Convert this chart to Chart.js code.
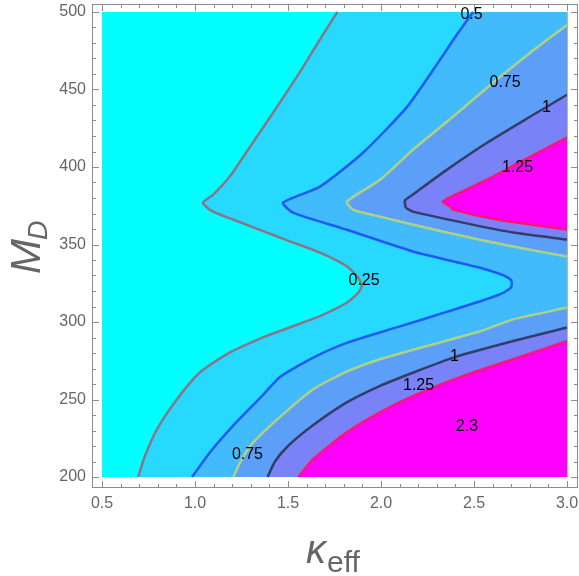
<!DOCTYPE html>
<html>
<head>
<meta charset="utf-8">
<script src="https://cdn.jsdelivr.net/npm/chart.js@4.4.1/dist/chart.umd.min.js"></script>
<style>
  html, body { margin: 0; padding: 0; background: #fff; }
  canvas { display: block; }
</style>
</head>
<body>
<canvas id="contour" width="579" height="576"></canvas>
<script>
// plot domain and ticks
const xRange = [0.5, 3.0];
const yRange = [200, 500];
const xTicks = [0.5, 1.0, 1.5, 2.0, 2.5, 3.0];
const yTicks = [200, 250, 300, 350, 400, 450, 500];

// contour lines, [kappa_eff, M_D]
const line025 = [[1.765,500],[1.66,480],[1.554,459.4],[1.42,435],[1.285,411.1],[1.188,394],[1.098,382.2],[1.043,377],[1.086,371.9],[1.24,364.5],[1.387,357.7],[1.511,352],[1.672,344.8],[1.816,336.0],[1.878,328.5],[1.896,323.1],[1.878,318.9],[1.816,312.4],[1.672,303.8],[1.581,299.7],[1.457,294.2],[1.366,290.1],[1.188,280.4],[1.027,267.6],[0.903,250.2],[0.796,230.9],[0.731,213.5],[0.694,200]];
const line05 = [[2.495,500],[2.40,484],[2.317,469.1],[2.140,438.8],[1.903,409.2],[1.672,387.3],[1.473,377],[1.527,370.6],[1.817,359.5],[2.172,345.5],[2.532,335],[2.65,330.5],[2.70,327],[2.70,322.5],[2.66,319],[2.55,314],[2.353,306.5],[2.084,296.5],[1.816,286.5],[1.636,277],[1.457,264.5],[1.366,253],[1.204,233],[1.081,216],[0.984,200]];
const line075Upper = [[3.0,491.6],[2.801,473.6],[2.602,454.3],[2.387,432.4],[2.172,411.1],[1.995,391.8],[1.817,377.7],[1.849,372.5],[1.995,368.0],[2.355,357.7],[2.710,348.7],[3.0,342.2]];
const line075Lower = [[3.0,309.3],[2.711,301.7],[2.532,294],[2.263,285],[1.995,276],[1.816,268],[1.636,256.6],[1.45,238],[1.313,222.3],[1.25,211],[1.206,200]];
const line1Upper = [[3.0,446.6],[2.801,432.4],[2.570,415.6],[2.355,398.3],[2.156,380.9],[2.129,378.5],[2.134,373.8],[2.172,371.2],[2.441,364.1],[2.710,357.7],[3.0,353.2]];
const line1Lower = [[3.0,296.4],[2.711,287.7],[2.389,277.0],[2.174,267.4],[1.995,258.8],[1.816,248.1],[1.636,233.5],[1.50,220],[1.43,210],[1.39,200]];
const line125Upper = [[3.0,418.9],[2.801,406.6],[2.570,391.8],[2.425,383.5],[2.333,377.7],[2.371,374.5],[2.387,372.5],[2.624,366.1],[3.0,359.6]];
const line125Lower = [[3.0,287.7],[2.711,276.0],[2.443,265.2],[2.174,252.3],[1.995,241.7],[1.816,228.8],[1.636,211.6],[1.556,200]];

// contour labels
const labelText = ['0.5', '0.75', '1', '1.25', '0.25', '1', '1.25', '2.3', '0.75'];
const labelX = [2.487, 2.667, 2.890, 2.734, 1.909, 2.395, 2.202, 2.462, 1.282];
const labelY = [498.1, 454.6, 438.5, 399.9, 326.8, 277.9, 258.9, 232.2, 214.2];

// colours
const bandColors = ['#00ffff', '#28d9ff', '#42bbfd', '#5b9ff9', '#7a82f7', '#ff00ff'];
const lineColors = ['#8a7687', '#1e5af5', '#afd282', '#343c69', '#ff1478'];
const TENSION = 0.2;

const pts = a => a.map(p => ({x: p[0], y: p[1]}));
const cornerBR = [xRange[1], yRange[0]];
const cornerTR = [xRange[1], yRange[1]];
const domainRect = [[xRange[0], yRange[0]], cornerBR, cornerTR, [xRange[0], yRange[1]]];

// region polygon: contour line, then straight runs along the domain edge
// (points doubled so the curve stays straight there)
const region = (ln, corners) => ln.concat([ln[ln.length - 1]], corners.flatMap(c => [c, c]));

// regions above each level, painted bottom-up
const regions = [
  [region(line025, [cornerBR, cornerTR]), 1],
  [region(line05, [cornerBR, cornerTR]), 2],
  [region(line075Upper, []), 3],
  [region(line075Lower, [cornerBR]), 3],
  [region(line1Upper, []), 4],
  [region(line1Lower, [cornerBR]), 4],
  [region(line125Upper, []), 5],
  [region(line125Lower, [cornerBR]), 5]
];
const lines = [
  [line025, 0], [line05, 1], [line075Upper, 2], [line075Lower, 2],
  [line1Upper, 3], [line1Lower, 3], [line125Upper, 4], [line125Lower, 4]
];

const datasets = [{
  data: pts(domainRect), showLine: true, fill: 'shape', backgroundColor: bandColors[0],
  borderWidth: 0, borderColor: 'rgba(0,0,0,0)', pointRadius: 0, tension: 0
}];
regions.forEach(([poly, c]) => datasets.push({
  data: pts(poly), showLine: true, fill: 'shape', backgroundColor: bandColors[c],
  borderWidth: 0, borderColor: 'rgba(0,0,0,0)', pointRadius: 0, tension: TENSION
}));
lines.forEach(([ln, c]) => datasets.push({
  data: pts(ln), showLine: true, fill: false, borderColor: lineColors[c],
  borderWidth: 2.5, pointRadius: 0, tension: TENSION, borderJoinStyle: 'round'
}));
datasets.forEach((d, i) => { d.order = datasets.length - i; });

const pxX = 186, pxY = 1.55;

const framePlugin = {
  id: 'frame',
  afterDatasetsDraw(chart) {
    const {ctx, chartArea: a, scales: {x, y}} = chart;
    ctx.save();
    // labels on the contours
    ctx.fillStyle = '#000';
    ctx.font = '16px "Liberation Sans", Arial, sans-serif';
    ctx.textAlign = 'center';
    ctx.textBaseline = 'middle';
    labelText.forEach((t, i) => ctx.fillText(t, x.getPixelForValue(labelX[i]), y.getPixelForValue(labelY[i])));

    // thin edge at right end of data
    ctx.strokeStyle = '#b4b4b4';
    ctx.lineWidth = 1;
    const rx = Math.round(x.getPixelForValue(xRange[1])) + 0.5;
    ctx.beginPath();
    ctx.moveTo(rx, y.getPixelForValue(yRange[1]));
    ctx.lineTo(rx, y.getPixelForValue(yRange[0]));
    ctx.stroke();

    // frame and inward ticks
    ctx.strokeStyle = '#8c8c8c';
    ctx.beginPath();
    const xs = [], ys = [];
    for (let i = 0; i < xTicks.length - 1; i++)
      for (let k = 0; k < 5; k++) xs.push([xTicks[i] + k * (xTicks[i + 1] - xTicks[i]) / 5, k === 0]);
    xs.push([xTicks[xTicks.length - 1], true]);
    for (let i = 0; i < yTicks.length - 1; i++)
      for (let k = 0; k < 5; k++) ys.push([yTicks[i] + k * (yTicks[i + 1] - yTicks[i]) / 5, k === 0]);
    ys.push([yTicks[yTicks.length - 1], true]);
    xs.forEach(([v, major]) => {
      const p = Math.round(x.getPixelForValue(v)) + 0.5;
      const len = major ? 7 : 4;
      ctx.moveTo(p, a.bottom); ctx.lineTo(p, a.bottom - len);
      ctx.moveTo(p, a.top); ctx.lineTo(p, a.top + len);
    });
    ys.forEach(([v, major]) => {
      const p = Math.round(y.getPixelForValue(v)) + 0.5;
      const len = major ? 7 : 4;
      ctx.moveTo(a.left, p); ctx.lineTo(a.left + len, p);
      ctx.moveTo(a.right, p); ctx.lineTo(a.right - len, p);
    });
    ctx.stroke();
    ctx.strokeRect(a.left + 0.5, a.top + 0.5, a.right - a.left - 1, a.bottom - a.top - 1);

    // axis titles
    ctx.fillStyle = '#666';
    ctx.textAlign = 'left';
    ctx.textBaseline = 'alphabetic';
    ctx.font = 'italic 40px "Liberation Sans", Arial, sans-serif';
    ctx.fillText('\u03ba', 306, 563);
    const kw = ctx.measureText('\u03ba').width;
    ctx.font = '30px "Liberation Sans", Arial, sans-serif';
    ctx.fillText('eff', 306 + kw + 1, 572);

    ctx.translate(40, 274);
    ctx.rotate(-Math.PI / 2);
    ctx.font = 'italic 42px "Liberation Sans", Arial, sans-serif';
    ctx.fillText('M', 0, 0);
    const mw = ctx.measureText('M').width;
    ctx.font = 'italic 27px "Liberation Sans", Arial, sans-serif';
    ctx.fillText('D', mw - 1, 7);
    ctx.restore();
  }
};

const tickFont = {family: '"Liberation Sans", Arial, sans-serif', size: 16};
const noEdgePadding = s => { s.paddingLeft = 0; s.paddingRight = 0; s.paddingTop = 0; s.paddingBottom = 0; };

new Chart(document.getElementById('contour'), {
  type: 'scatter',
  data: {datasets: datasets},
  options: {
    responsive: false,
    animation: false,
    devicePixelRatio: 1,
    layout: {padding: {left: 0, top: 4, right: 1, bottom: 0}},
    plugins: {legend: {display: false}, tooltip: {enabled: false}},
    scales: {
      x: {
        type: 'linear',
        min: xRange[0] - 10 / pxX,
        max: xRange[1] + 11 / pxX,
        grid: {display: false, drawTicks: false},
        border: {display: false},
        afterBuildTicks: s => { s.ticks = xTicks.map(v => ({value: v})); },
        afterFit: s => { s.height = 88; noEdgePadding(s); },
        ticks: {
          font: tickFont, color: '#666', padding: 6, autoSkip: false, maxRotation: 0,
          callback: v => Number(v).toFixed(1)
        }
      },
      y: {
        type: 'linear',
        min: yRange[0] - 11 / pxY,
        max: yRange[1] + 8 / pxY,
        grid: {display: false, drawTicks: false},
        border: {display: false},
        afterBuildTicks: s => { s.ticks = yTicks.map(v => ({value: v})); },
        afterFit: s => { s.width = 92; noEdgePadding(s); },
        ticks: {
          font: tickFont, color: '#666', padding: 6, autoSkip: false,
          callback: v => String(v)
        }
      }
    }
  },
  plugins: [framePlugin]
});
</script>
</body>
</html>
